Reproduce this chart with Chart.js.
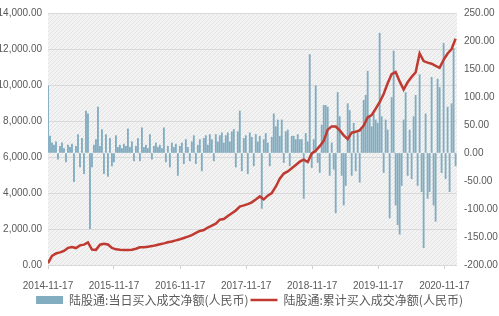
<!DOCTYPE html>
<html>
<head>
<meta charset="utf-8">
<script src="https://cdn.jsdelivr.net/npm/chart.js@4.4.0/dist/chart.umd.min.js"></script>
<style>
  html, body { margin: 0; padding: 0; background: #fff; }
  #wrap { width: 499px; height: 316px; }
</style>
</head>
<body>
<div id="wrap"><canvas id="myChart"></canvas></div>
<script>
// x axis: days since 2014-11-17
const tickLabels = ["2014-11-17", "2015-11-17", "2016-11-17", "2017-11-17", "2018-11-17", "2019-11-17", "2020-11-17"];
const tickDays = [0, 365, 731, 1096, 1461, 1826, 2192];
const barStepDays = 11.05;
const lineStepDays = 22.1;

// 陆股通:当日买入成交净额 (right axis)
const dailyNet = [
  120, 30, 18, 14, 20, -11, 12, 18, 8, -16,
  14, 10, 16, -51, 12, 33, -25, 26, -37, 75,
  70, -135, -25, 14, 24, 82, 12, 42, -37, 33,
  -42, 26, -23, -16, 31, 10, 14, 8, 16, 12,
  43, 10, 20, -14, 12, 26, -14, 45, 10, 14,
  8, 33, -11, 12, 18, 10, 14, 8, 45, -16,
  12, -25, 18, 10, 16, -40, 12, 18, -19, 24,
  10, -14, 20, 31, -19, 14, 24, -32, 26, 31,
  14, 33, 24, -14, 33, 20, 31, 36, 18, 31,
  36, 20, 38, 42, -25, 38, 75, -32, 26, 31,
  -37, 36, 28, -23, 33, 20, 30, -99, 24, 35,
  18, -23, 28, 70, 47, 59, 30, 59, -17, 38,
  41, -23, 30, 30, 24, 33, 24, 24, -81, 35,
  20, 176, -26, 24, 120, -17, -35, 50, 85, 85,
  82, -40, 18, -29, -107, 108, 65, -40, -93, -58,
  88, 76, -40, 53, -32, 36, -52, 41, 94, 103,
  146, 65, 47, 70, 59, 53, 214, 65, -35, 59,
  41, -116, 99, 182, -93, -128, -145, -58, 59, 108,
  -40, 41, -46, 65, 103, -58, 140, -69, -169, 70,
  -81, -69, 135, -93, -122, 132, 117, -35, 196, -46,
  82, -69, 88, 187, -23
];

// 陆股通:累计买入成交净额 (left axis)
const cumulativeNet = [
  100, 500, 640, 700, 780, 950, 1000, 940, 1090, 1130,
  1250, 860, 840, 1130, 1180, 1140, 950, 870, 850, 840,
  830, 850, 900, 980, 990, 1020, 1050, 1100, 1150, 1200,
  1260, 1310, 1370, 1430, 1500, 1580, 1660, 1780, 1890, 1940,
  2080, 2190, 2300, 2520, 2550, 2720, 2880, 3030, 3250, 3310,
  3380, 3480, 3640, 3810, 3640, 3850, 4000, 4350, 4790, 5080,
  5200, 5380, 5560, 5740, 5850, 5720, 6200, 6350, 6600, 6900,
  7520, 7700, 7690, 7480, 7200, 7000, 7350, 7400, 7480, 7750,
  8200, 8330, 8680, 9050, 9500, 10100, 10600, 10720, 10200, 9750,
  10150, 10450, 10700, 11750, 11330, 11240, 11180, 11060, 10950, 11400,
  11750, 12000, 12570
];

const barPoints = dailyNet.map((v, i) => ({ x: i * barStepDays, y: v }));
const linePoints = cumulativeNet.map((v, i) => ({ x: i * lineStepDays, y: v }));

// hatched plot background
const patCanvas = document.createElement("canvas");
patCanvas.width = 4;
patCanvas.height = 4;
const pctx = patCanvas.getContext("2d");
pctx.fillStyle = "#f3f3f3";
pctx.fillRect(0, 0, 4, 4);
pctx.strokeStyle = "#e2e2e2";
pctx.lineWidth = 1;
pctx.beginPath();
pctx.moveTo(0, 4);
pctx.lineTo(4, 0);
pctx.stroke();

const hatchBg = {
  id: "hatchBg",
  beforeDraw(chart) {
    const { ctx, chartArea } = chart;
    ctx.save();
    ctx.fillStyle = ctx.createPattern(patCanvas, "repeat");
    ctx.fillRect(chartArea.left, chartArea.top, chartArea.right - chartArea.left, chartArea.bottom - chartArea.top);
    ctx.restore();
  },
};

const fmt2 = (v) => v.toLocaleString("en-US", { minimumFractionDigits: 2, maximumFractionDigits: 2 });
const tickFont = { family: "Liberation Sans", size: 10 };
const textColor = "#595959";

const data = {
  datasets: [
    {
      type: "bar",
      label: "陆股通:当日买入成交净额(人民币)",
      data: barPoints,
      yAxisID: "y1",
      backgroundColor: "#82adc1",
      borderWidth: 0,
      barThickness: 1.2,
      pointStyle: "rect",
      order: 1,
    },
    {
      type: "line",
      label: "陆股通:累计买入成交净额(人民币)",
      data: linePoints,
      yAxisID: "y",
      borderColor: "#bf3a31",
      backgroundColor: "#bf3a31",
      borderWidth: 2.5,
      pointRadius: 0,
      pointStyle: "line",
      tension: 0,
      order: 0,
    },
  ],
};

const config = {
  data: data,
  plugins: [hatchBg],
  options: {
    responsive: true,
    maintainAspectRatio: false,
    animation: false,
    layout: { padding: { top: 5, bottom: 0, left: 0, right: 0 } },
    plugins: {
      tooltip: { enabled: false },
      legend: {
        position: "bottom",
        labels: {
          usePointStyle: true,
          pointStyleWidth: 27,
          boxHeight: 8,
          padding: 2,
          color: textColor,
          font: { family: "Noto Sans CJK SC", size: 12 },
          sort: (a, b) => a.datasetIndex - b.datasetIndex,
        },
      },
    },
    scales: {
      x: {
        type: "linear",
        offset: false,
        min: 0,
        max: 2262,
        afterBuildTicks: (scale) => {
          scale.ticks = tickDays.map((d) => ({ value: d }));
        },
        afterFit: (scale) => { scale.height = 27; },
        ticks: {
          autoSkip: false,
          maxRotation: 0,
          color: textColor,
          font: tickFont,
          padding: 11,
          callback: (value, index) => tickLabels[index],
        },
        grid: { offset: false, drawOnChartArea: false, drawTicks: true, tickLength: 4, color: "#cfcfcf" },
        border: { display: false },
      },
      y: {
        position: "left",
        min: 0,
        max: 14000,
        ticks: { stepSize: 2000, color: textColor, font: tickFont, padding: 6, callback: (v) => fmt2(v) },
        grid: { color: "#d9d9d9", drawTicks: false },
        border: { display: false },
        afterFit: (scale) => { scale.width = 48; },
      },
      y1: {
        position: "right",
        min: -200,
        max: 250,
        ticks: { stepSize: 50, color: textColor, font: tickFont, padding: 7, callback: (v) => fmt2(v) },
        grid: { drawOnChartArea: false, drawTicks: false },
        border: { display: false },
        afterFit: (scale) => { scale.width = 42; },
      },
    },
  },
};

var myChart = new Chart(document.getElementById("myChart"), config);
// keep the legend strip compact so the plot reaches down like the original
myChart.legend.afterFit = function () {
  this.height = 20;
};
myChart.update();
</script>
</body>
</html>
